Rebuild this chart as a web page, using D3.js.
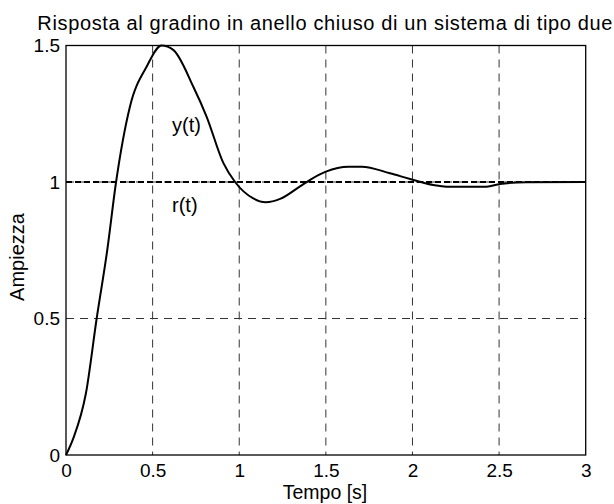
<!DOCTYPE html>
<html>
<head>
<meta charset="utf-8">
<script src="https://cdn.jsdelivr.net/npm/d3@7"></script>
<style>
  body { margin: 0; background: #fff; }
  text { font-family: "Liberation Sans", Arial, sans-serif; fill: #000; }
</style>
</head>
<body>
<div id="chart"></div>
<script>
// step response samples
var tempo = [0, 0.042, 0.115, 0.177, 0.238, 0.289, 0.369, 0.466, 0.552, 0.619, 0.735, 0.812, 0.908, 0.976,
             1.081, 1.153, 1.236, 1.351, 1.409, 1.5, 1.63, 1.707, 1.87, 1.986, 2.12, 2.197, 2.428, 2.505, 2.659, 3];
var ampiezza = [0, 0.061, 0.226, 0.5, 0.75, 1.0, 1.276, 1.423, 1.5, 1.484, 1.349, 1.239, 1.07, 1.0,
                0.94, 0.926, 0.938, 0.984, 1.008, 1.038, 1.056, 1.056, 1.032, 1.011, 0.989, 0.983, 0.983, 0.993, 0.999, 1.0];
var riferimento = [1, 1];
var xTicks = [0, 0.5, 1, 1.5, 2, 2.5, 3];
var yTicks = [0, 0.5, 1, 1.5];

function stepChart() {
  var width = 614, height = 504;
  var margin = {top: 45.5, right: 28.3, bottom: 49, left: 66};
  var w = width - margin.left - margin.right,
      h = height - margin.top - margin.bottom;

  var svg = d3.select("#chart").append("svg")
              .attr("width", width)
              .attr("height", height);
  var g = svg.append("g")
             .attr("transform", "translate(" + margin.left + "," + margin.top + ")");

  var x = d3.scaleLinear().domain([0, 3]).range([0, w]);
  var y = d3.scaleLinear().domain([0, 1.5]).range([h, 0]);

  // grid
  g.selectAll(".vgrid").data(xTicks.slice(1, -1)).enter().append("line")
   .attr("x1", function(d) { return x(d); }).attr("x2", function(d) { return x(d); })
   .attr("y1", 0).attr("y2", h)
   .attr("stroke", "#333").attr("stroke-width", 1).attr("stroke-dasharray", "8,6");
  g.selectAll(".hgrid").data(yTicks.slice(1, -1)).enter().append("line")
   .attr("x1", 0).attr("x2", w)
   .attr("y1", function(d) { return y(d); }).attr("y2", function(d) { return y(d); })
   .attr("stroke", "#333").attr("stroke-width", 1).attr("stroke-dasharray", "8,6");

  // reference r(t)
  g.append("line")
   .attr("x1", x(0)).attr("x2", x(3))
   .attr("y1", y(riferimento[0])).attr("y2", y(riferimento[1]))
   .attr("stroke", "#000").attr("stroke-width", 2).attr("stroke-dasharray", "6,3");

  // response y(t)
  var pts = tempo.map(function(t, i) { return [t, ampiezza[i]]; });
  var line = d3.line()
               .x(function(d) { return x(d[0]); })
               .y(function(d) { return y(d[1]); })
               .curve(d3.curveMonotoneX);
  g.append("path")
   .datum(pts)
   .attr("d", line)
   .attr("fill", "none")
   .attr("stroke", "#000")
   .attr("stroke-width", 2);

  // box
  g.append("rect")
   .attr("width", w).attr("height", h)
   .attr("fill", "none").attr("stroke", "#000").attr("stroke-width", 1.3);

  // axes (labels only, no tick marks)
  var xa = g.append("g").attr("transform", "translate(0," + h + ")")
            .call(d3.axisBottom(x).tickValues(xTicks).tickSize(0).tickPadding(9).tickFormat(d3.format("")));
  var ya = g.append("g")
            .call(d3.axisLeft(y).tickValues(yTicks).tickSize(0).tickPadding(6).tickFormat(d3.format("")));
  [xa, ya].forEach(function(a) {
    a.select(".domain").remove();
    a.selectAll("text").style("font-size", "19px").style("font-family", "'Liberation Sans', Arial, sans-serif");
  });

  // labels
  g.append("text").attr("x", 106).attr("y", 86).style("font-size", "20px").text("y(t)");
  g.append("text").attr("x", 106).attr("y", 166).style("font-size", "20px").text("r(t)");

  svg.append("text")
     .attr("x", margin.left + w / 2 - 1).attr("y", 30)
     .attr("text-anchor", "middle").style("font-size", "20px")
     .attr("textLength", 575).attr("lengthAdjust", "spacing")
     .text("Risposta al gradino in anello chiuso di un sistema di tipo due");
  svg.append("text")
     .attr("x", 325).attr("y", 499)
     .attr("text-anchor", "middle").style("font-size", "19.5px")
     .text("Tempo [s]");
  svg.append("text")
     .attr("transform", "translate(24,257) rotate(-90)")
     .attr("text-anchor", "middle").style("font-size", "20px")
     .text("Ampiezza");
}

stepChart();
</script>
</body>
</html>
